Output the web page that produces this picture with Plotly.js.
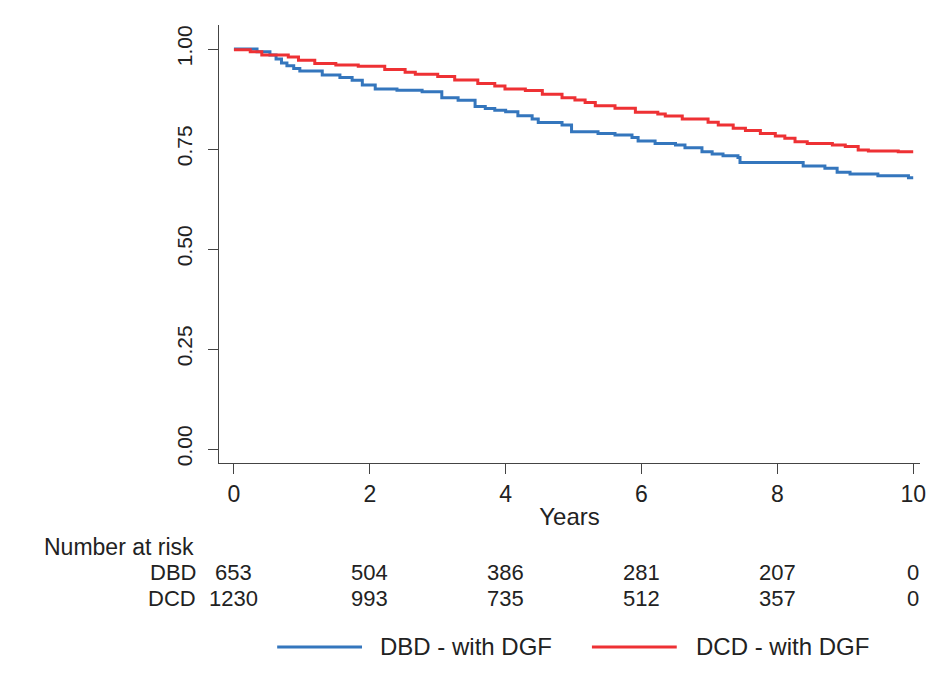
<!DOCTYPE html>
<html>
<head>
<meta charset="utf-8">
<script src="https://cdn.plot.ly/plotly-3.0.1.min.js"></script>
<style>
html,body{margin:0;padding:0;background:#fff;}
#chart{width:949px;height:697px;}
</style>
</head>
<body>
<div id="chart"></div>
<script>
// Kaplan-Meier estimates
const dbdTime = [0,0.34,0.53,0.62,0.70,0.78,0.88,0.97,1.3,1.56,1.74,1.89,2.08,2.4,2.77,3.06,3.30,3.55,3.70,3.84,4.0,4.18,4.39,4.48,4.83,4.97,5.36,5.61,5.86,5.95,6.2,6.5,6.64,6.89,7.04,7.2,7.42,7.45,8.38,8.7,8.88,9.07,9.48,9.93,10.0];
const dbdSurv = [1.0,0.993,0.985,0.975,0.965,0.958,0.951,0.945,0.935,0.929,0.922,0.91,0.90,0.897,0.893,0.878,0.872,0.856,0.851,0.847,0.843,0.833,0.825,0.816,0.81,0.793,0.789,0.785,0.779,0.77,0.764,0.76,0.753,0.743,0.7375,0.733,0.729,0.716,0.7075,0.702,0.692,0.6875,0.683,0.678,0.678];
const dcdTime = [0,0.24,0.41,0.8,0.95,1.19,1.5,1.83,2.22,2.52,2.67,3.0,3.25,3.59,3.84,3.99,4.29,4.54,4.83,5.02,5.17,5.32,5.61,5.91,6.24,6.35,6.6,6.98,7.13,7.35,7.53,7.75,7.97,8.11,8.26,8.44,8.81,9.0,9.19,9.34,9.78,10.0];
const dcdSurv = [0.998,0.993,0.985,0.98,0.972,0.964,0.96,0.957,0.949,0.942,0.937,0.931,0.9225,0.914,0.9075,0.90,0.896,0.887,0.878,0.8725,0.866,0.858,0.852,0.842,0.8375,0.8325,0.825,0.817,0.81,0.802,0.796,0.789,0.7825,0.777,0.768,0.764,0.76,0.756,0.7475,0.745,0.743,0.743];

const seriesNames = ["DBD - with DGF","DCD - with DGF"];
const riskGroups = ["DBD","DCD"];
const riskTimes = [0,2,4,6,8,10];
const riskDBD = [653,504,386,281,207,0];
const riskDCD = [1230,993,735,512,357,0];
const xTicks = [0,2,4,6,8,10];
const yTicks = [0,0.25,0.5,0.75,1];
const yTickText = ["0.00","0.25","0.50","0.75","1.00"];

const blue = "#3476bd";
const red = "#ee3134";
const colors = [blue, red];
const font = "Arial, 'Liberation Sans', Helvetica, sans-serif";
const textCol = "#222";

const traces = [
  {x: dbdTime, y: dbdSurv, type: "scatter", mode: "lines", line: {shape: "hv", color: blue, width: 3}, name: seriesNames[0]},
  {x: dcdTime, y: dcdSurv, type: "scatter", mode: "lines", line: {shape: "hv", color: red, width: 3}, name: seriesNames[1]}
];

const rowY = [-0.251, -0.309];
const annotations = [
  {xref: "paper", yref: "paper", x: -0.251, y: -0.192, xanchor: "left", yanchor: "middle", text: "Number at risk", showarrow: false, borderpad: 0, font: {size: 23, color: textCol}}
];
riskGroups.forEach((g, i) => {
  annotations.push({xref: "paper", yref: "paper", x: -0.031, y: rowY[i], xanchor: "right", yanchor: "middle", text: g, showarrow: false, borderpad: 0, font: {size: 22, color: textCol}});
});
[riskDBD, riskDCD].forEach((arr, i) => {
  arr.forEach((v, j) => {
    annotations.push({xref: "x", yref: "paper", x: riskTimes[j], y: rowY[i], xanchor: "center", yanchor: "middle", text: String(v), showarrow: false, borderpad: 0, font: {size: 22, color: textCol}});
  });
});

// Legend drawn as line samples + labels below the risk table
const legendY = -0.42;
const legendLineX = [[0.083, 0.204], [0.532, 0.653]];
const legendTextX = [0.228, 0.679];
const shapes = [];
seriesNames.forEach((n, i) => {
  shapes.push({type: "line", xref: "paper", yref: "paper", x0: legendLineX[i][0], x1: legendLineX[i][1], y0: legendY, y1: legendY, line: {color: colors[i], width: 3}});
  annotations.push({xref: "paper", yref: "paper", x: legendTextX[i], y: legendY, xanchor: "left", yanchor: "middle", text: n, showarrow: false, borderpad: 0, font: {size: 24, color: textCol}});
});

const layout = {
  width: 949, height: 697,
  paper_bgcolor: "#fff", plot_bgcolor: "#fff",
  font: {family: font, color: textCol},
  margin: {l: 219, r: 29, t: 25, b: 234},
  xaxis: {
    range: [-0.22, 10.1], tickvals: xTicks, ticks: "outside", ticklen: 10, tickcolor: "#444", tickwidth: 1,
    showline: true, linecolor: "#444", linewidth: 1, showgrid: false, zeroline: false,
    tickfont: {size: 23, color: textCol},
    title: {text: "Years", font: {size: 24, color: textCol}, standoff: 2}
  },
  yaxis: {
    range: [-0.035, 1.06], tickvals: yTicks, ticktext: yTickText, ticks: "outside", ticklen: 10, tickcolor: "#444", tickwidth: 1,
    showline: true, linecolor: "#444", linewidth: 1, showgrid: false, zeroline: false,
    tickangle: -90, tickfont: {size: 21, color: textCol}, ticklabelstandoff: 8
  },
  showlegend: false,
  shapes: shapes,
  annotations: annotations
};

Plotly.newPlot("chart", traces, layout, {displayModeBar: false, staticPlot: true});
</script>
</body>
</html>
